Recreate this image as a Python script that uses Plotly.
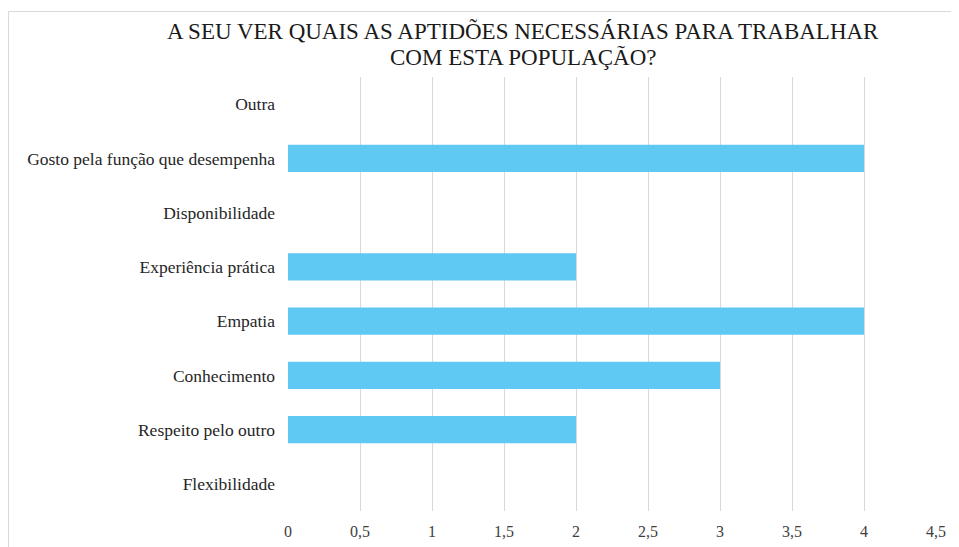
import plotly.graph_objects as go

categories = ["Flexibilidade", "Respeito pelo outro", "Conhecimento", "Empatia",
              "Experiência prática", "Disponibilidade",
              "Gosto pela função que desempenha", "Outra"]
values = [0, 2, 3, 4, 2, 0, 4, 0]
tick_vals = [0, 0.5, 1, 1.5, 2, 2.5, 3, 3.5, 4, 4.5]
tick_text = ["0", "0,5", "1", "1,5", "2", "2,5", "3", "3,5", "4", "4,5"]
title_lines = ["A SEU VER QUAIS AS APTIDÕES NECESSÁRIAS PARA TRABALHAR",
               "COM ESTA POPULAÇÃO?"]

# page body has an 8px margin, so the figure is drawn offset by (8, 8)
OFF = 8
W, H = 959 - OFF, 547 - OFF
ml, mr, mt, mb = 288 - OFF, 23, 77 - OFF, 36
serif = "Liberation Serif"

fig = go.Figure()
fig.add_trace(go.Bar(
    y=categories, x=values, orientation="h",
    marker=dict(color="#5FC9F3", line=dict(width=0)),
    hoverinfo="x+y",
))

pw = W - ml - mr
ph = H - mt - mb
fig.add_shape(type="rect", xref="paper", yref="paper",
              x0=(0.5 - ml) / pw, x1=(W + 5 - ml) / pw,
              y0=-(mb + 10) / ph, y1=1 + (mt - 3.5) / ph,
              line=dict(color="#d9d9d9", width=1), layer="below")

# title as two annotation lines (tighter line spacing than plotly's title)
for line, page_y in zip(title_lines, [31, 57.5]):
    fig.add_annotation(text=line, xref="paper", yref="paper",
                       x=(523 - 288) / pw, y=1 + (77 - page_y) / ph,
                       xanchor="center", yanchor="middle", showarrow=False,
                       font=dict(family=serif, size=23, color="#1a1a1a"))

fig.update_layout(
    width=W, height=H,
    margin=dict(l=ml, r=mr, t=mt, b=mb),
    paper_bgcolor="white", plot_bgcolor="white",
    bargap=0.5,
    showlegend=False,
    font=dict(family=serif, size=16, color="#404040"),
    xaxis=dict(range=[0, 4.5], tickvals=tick_vals, ticktext=tick_text,
               showgrid=True, gridcolor="#d9d9d9", gridwidth=1,
               zeroline=False, showline=False, ticks="", automargin=False,
               tickfont=dict(family=serif, size=16, color="#404040"),
               ticklabelstandoff=9),
    yaxis=dict(showgrid=False, zeroline=False, showline=False, ticks="",
               automargin=False,
               tickfont=dict(family=serif, size=17.5, color="#262626"),
               ticklabelstandoff=12),
)

fig.write_html("out.html")
